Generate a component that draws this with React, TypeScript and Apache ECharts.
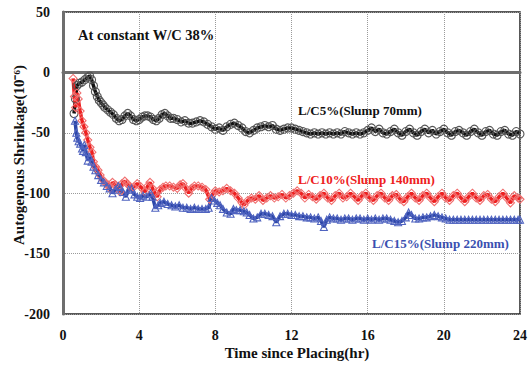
import React, { useEffect, useRef } from "react";
import * as echarts from "echarts";

// Autogenous shrinkage (×10⁻⁶) against time since placing (hr), read as [hr, value]
const lc5: [number, number][] = [
  [0.58, -34], [0.65, -22], [0.73, -11], [0.85, -9], [1.0, -8], [1.15, -6], [1.3, -4], [1.4, -3],
  [1.5, -6], [1.6, -11], [1.7, -16], [1.8, -20], [1.9, -23], [2.0, -25], [2.1, -27], [2.2, -29],
  [2.35, -31], [2.5, -33], [2.65, -35], [2.8, -38], [2.95, -40], [3.1, -39], [3.25, -36], [3.4, -34],
  [3.55, -36], [3.7, -39], [3.85, -40], [4.0, -39], [4.15, -37], [4.3, -36], [4.45, -36], [4.6, -37],
  [4.75, -39], [4.9, -40], [5.05, -38], [5.2, -35], [5.35, -34], [5.5, -36], [5.65, -38], [5.8, -38],
  [6.0, -39], [6.2, -41], [6.4, -40], [6.6, -42], [6.8, -42], [7.0, -41], [7.2, -40], [7.4, -41],
  [7.6, -43], [7.8, -45], [8.0, -47], [8.2, -46], [8.4, -48], [8.6, -45], [8.8, -43], [9.0, -42],
  [9.2, -44], [9.4, -46], [9.6, -49], [9.8, -50], [10.0, -48], [10.2, -46], [10.4, -45], [10.6, -44],
  [10.8, -45], [11.0, -44], [11.2, -47], [11.4, -48], [11.6, -47], [11.8, -46], [12.0, -46], [12.2, -47],
  [12.4, -48], [12.6, -49], [12.8, -50], [13.0, -51], [13.2, -50], [13.4, -51], [13.6, -50], [13.8, -51],
  [14.0, -50], [14.2, -51], [14.4, -50], [14.6, -51], [14.8, -49], [15.0, -50], [15.2, -51], [15.4, -50],
  [15.6, -51], [15.8, -50], [16.0, -48], [16.2, -46], [16.4, -49], [16.6, -47], [16.8, -50], [17.0, -51],
  [17.2, -49], [17.4, -47], [17.6, -50], [17.8, -52], [18.0, -49], [18.2, -47], [18.4, -50], [18.6, -52],
  [18.8, -49], [19.0, -47], [19.2, -50], [19.4, -48], [19.6, -51], [19.8, -49], [20.0, -47], [20.2, -50],
  [20.4, -52], [20.6, -49], [20.8, -48], [21.0, -50], [21.2, -52], [21.4, -49], [21.6, -47], [21.8, -50],
  [22.0, -52], [22.2, -49], [22.4, -48], [22.6, -51], [22.8, -52], [23.0, -49], [23.2, -48], [23.4, -51],
  [23.6, -52], [23.8, -49], [24.0, -51],
];

const lc10: [number, number][] = [
  [0.53, -5], [0.6, -20], [0.66, -29], [0.73, -17], [0.8, -22], [0.9, -32], [1.0, -40], [1.1, -45],
  [1.2, -50], [1.3, -56], [1.42, -62], [1.52, -66], [1.6, -74], [1.7, -78], [1.84, -81], [1.95, -85],
  [2.1, -89], [2.25, -92], [2.36, -93], [2.47, -96], [2.6, -91], [2.75, -93], [2.9, -95], [3.0, -99],
  [3.1, -92], [3.25, -90], [3.35, -92], [3.5, -94], [3.7, -95], [3.9, -92], [4.1, -95], [4.3, -99],
  [4.45, -94], [4.57, -91], [4.7, -96], [4.83, -100], [4.95, -103], [5.1, -97], [5.25, -95], [5.4, -94],
  [5.6, -94], [5.8, -95], [6.0, -96], [6.15, -93], [6.3, -92], [6.45, -96], [6.6, -100], [6.75, -96],
  [6.9, -94], [7.1, -94], [7.3, -95], [7.5, -97], [7.7, -105], [7.85, -101], [8.0, -98], [8.2, -99],
  [8.4, -98], [8.6, -96], [8.8, -98], [9.0, -100], [9.2, -104], [9.4, -108], [9.5, -110], [9.7, -106],
  [9.9, -104], [10.1, -105], [10.3, -102], [10.5, -106], [10.7, -104], [10.9, -102], [11.1, -104], [11.3, -103],
  [11.5, -101], [11.7, -104], [11.9, -102], [12.1, -100], [12.3, -98], [12.5, -100], [12.7, -104], [12.9, -101],
  [13.1, -103], [13.3, -105], [13.5, -102], [13.7, -100], [13.9, -104], [14.1, -106], [14.3, -102], [14.5, -100],
  [14.7, -104], [14.9, -103], [15.1, -100], [15.3, -103], [15.5, -106], [15.7, -102], [15.9, -100], [16.1, -104],
  [16.3, -106], [16.5, -102], [16.7, -100], [16.9, -104], [17.1, -106], [17.3, -102], [17.5, -101], [17.7, -105],
  [17.9, -107], [18.1, -103], [18.3, -100], [18.5, -104], [18.7, -106], [18.9, -102], [19.1, -100], [19.3, -104],
  [19.5, -107], [19.7, -103], [19.9, -100], [20.1, -104], [20.3, -106], [20.5, -102], [20.7, -100], [20.9, -104],
  [21.1, -107], [21.3, -103], [21.5, -100], [21.7, -104], [21.9, -106], [22.1, -102], [22.3, -101], [22.5, -105],
  [22.7, -107], [22.9, -103], [23.1, -100], [23.3, -104], [23.5, -108], [23.7, -102], [23.9, -104], [24.0, -105],
];

const lc15: [number, number][] = [
  [0.63, -40], [0.7, -50], [0.75, -54], [0.82, -57], [0.9, -59], [1.0, -63], [1.05, -65], [1.12, -60],
  [1.2, -66], [1.3, -73], [1.4, -70], [1.5, -74], [1.6, -78], [1.7, -81], [1.85, -85], [2.0, -89],
  [2.15, -91], [2.3, -94], [2.45, -96], [2.6, -100], [2.75, -97], [2.9, -94], [3.0, -95], [3.15, -99],
  [3.3, -103], [3.45, -97], [3.6, -96], [3.75, -101], [3.9, -103], [4.05, -104], [4.2, -102], [4.4, -103],
  [4.6, -100], [4.7, -103], [4.85, -112], [5.0, -110], [5.1, -108], [5.3, -107], [5.5, -109], [5.7, -110],
  [5.9, -111], [6.1, -110], [6.3, -112], [6.5, -112], [6.7, -113], [6.9, -112], [7.1, -113], [7.3, -113],
  [7.5, -113], [7.65, -112], [7.8, -104], [7.95, -106], [8.1, -108], [8.25, -110], [8.4, -113], [8.6, -116],
  [8.8, -117], [8.95, -113], [9.1, -114], [9.3, -114], [9.5, -115], [9.65, -116], [9.8, -118], [10.0, -121],
  [10.2, -120], [10.4, -117], [10.6, -117], [10.8, -118], [11.0, -119], [11.2, -124], [11.4, -119], [11.6, -117],
  [11.8, -117], [12.0, -118], [12.2, -118], [12.4, -119], [12.6, -119], [12.8, -120], [13.0, -120], [13.2, -121],
  [13.4, -120], [13.55, -123], [13.7, -128], [13.85, -122], [14.0, -120], [14.2, -121], [14.4, -121], [14.6, -122],
  [14.8, -121], [15.0, -121], [15.2, -122], [15.4, -121], [15.6, -121], [15.8, -122], [16.0, -121], [16.2, -122],
  [16.4, -121], [16.6, -122], [16.8, -121], [17.0, -121], [17.2, -122], [17.4, -123], [17.6, -124], [17.8, -123],
  [18.0, -120], [18.15, -116], [18.3, -118], [18.5, -121], [18.7, -121], [18.9, -120], [19.1, -120], [19.3, -119],
  [19.5, -118], [19.7, -119], [19.9, -120], [20.1, -121], [20.3, -122], [20.5, -122], [20.7, -122], [20.9, -122],
  [21.1, -122], [21.3, -122], [21.5, -122], [21.7, -122], [21.9, -122], [22.1, -122], [22.3, -122], [22.5, -122],
  [22.7, -122], [22.9, -122], [23.1, -122], [23.3, -122], [23.5, -122], [23.7, -122], [23.9, -122], [24.0, -122],
];

const seriesNames = ["L/C5%(Slump 70mm)", "L/C10%(Slump 140mm)", "L/C15%(Slump 220mm)"];
const chartNote = "At constant W/C 38%";
const xTitle = "Time since Placing(hr)";
const yTitle = "Autogenous Shrinkage(10⁻⁶)";

const SERIF = "'Times New Roman', 'Liberation Serif', serif";

export default function App() {
  const ref = useRef<HTMLDivElement>(null);

  useEffect(() => {
    if (!ref.current) return;
    const chart = echarts.init(ref.current, null, { renderer: "svg" });

    const lineSeries = (
      name: string,
      data: [number, number][],
      lineColor: string,
      markColor: string,
      symbol: string,
      size: number
    ) => ({
      name,
      type: "line",
      data,
      showSymbol: true,
      symbol,
      symbolSize: size,
      lineStyle: { color: lineColor, width: 3.5 },
      itemStyle: { color: "rgba(255,255,255,0)", borderColor: markColor, borderWidth: 1.1 },
      emphasis: { disabled: true },
      z: 3,
    });

    const labelText = (text: string, x: number, y: number, color: string, size = 13) => ({
      type: "text",
      x,
      y,
      style: {
        text,
        fill: color,
        font: `bold ${size}px ${SERIF}`,
        textAlign: "left",
        textVerticalAlign: "middle",
      },
      z: 10,
    });

    chart.setOption({
      animation: false,
      backgroundColor: "#ffffff",
      grid: {
        left: 63,
        right: 12,
        top: 12,
        bottom: 52,
        show: true,
        borderColor: "#222",
        borderWidth: 1.5,
      },
      xAxis: {
        type: "value",
        min: 0,
        max: 24,
        interval: 4,
        axisLine: { show: true, lineStyle: { color: "#6e6e6e", width: 3 } },
        axisTick: { show: false },
        axisLabel: {
          color: "#111",
          fontFamily: SERIF,
          fontWeight: "bold",
          fontSize: 14,
          margin: 14,
        },
        splitLine: { show: true, lineStyle: { color: "#9a9a9a", type: "dotted", width: 1 } },
      },
      yAxis: {
        type: "value",
        min: -200,
        max: 50,
        interval: 50,
        axisLine: { show: true, lineStyle: { color: "#6e6e6e", width: 3 } },
        axisTick: { show: false },
        axisLabel: {
          color: "#111",
          fontFamily: SERIF,
          fontWeight: "bold",
          fontSize: 14,
          margin: 13,
        },
        splitLine: { show: true, lineStyle: { color: "#9a9a9a", type: "dotted", width: 1 } },
      },
      series: [
        lineSeries(seriesNames[0], lc5, "#111111", "#555555", "circle", 8),
        lineSeries(seriesNames[1], lc10, "#ee2020", "#f07070", "diamond", 8),
        lineSeries(seriesNames[2], lc15, "#2c46a8", "#5064c0", "triangle", 7),
      ],
      graphic: [
        labelText(chartNote, 78, 35, "#111111", 14.5),
        labelText(seriesNames[0], 298, 110, "#111111"),
        labelText(seriesNames[1], 298, 179, "#ee2020"),
        labelText(seriesNames[2], 372, 243, "#3a50b0"),
        {
          type: "text",
          x: 297,
          y: 353,
          style: {
            text: xTitle,
            fill: "#111",
            font: `bold 15px ${SERIF}`,
            textAlign: "center",
            textVerticalAlign: "middle",
          },
        },
        {
          type: "text",
          x: 19,
          y: 155,
          rotation: Math.PI / 2,
          style: {
            text: yTitle,
            fill: "#111",
            font: `bold 15px ${SERIF}`,
            textAlign: "center",
            textVerticalAlign: "middle",
          },
        },
      ],
    });

    return () => chart.dispose();
  }, []);

  return (
    <div
      ref={ref}
      style={{ position: "absolute", left: 0, top: 0, width: 532, height: 366 }}
    />
  );
}
